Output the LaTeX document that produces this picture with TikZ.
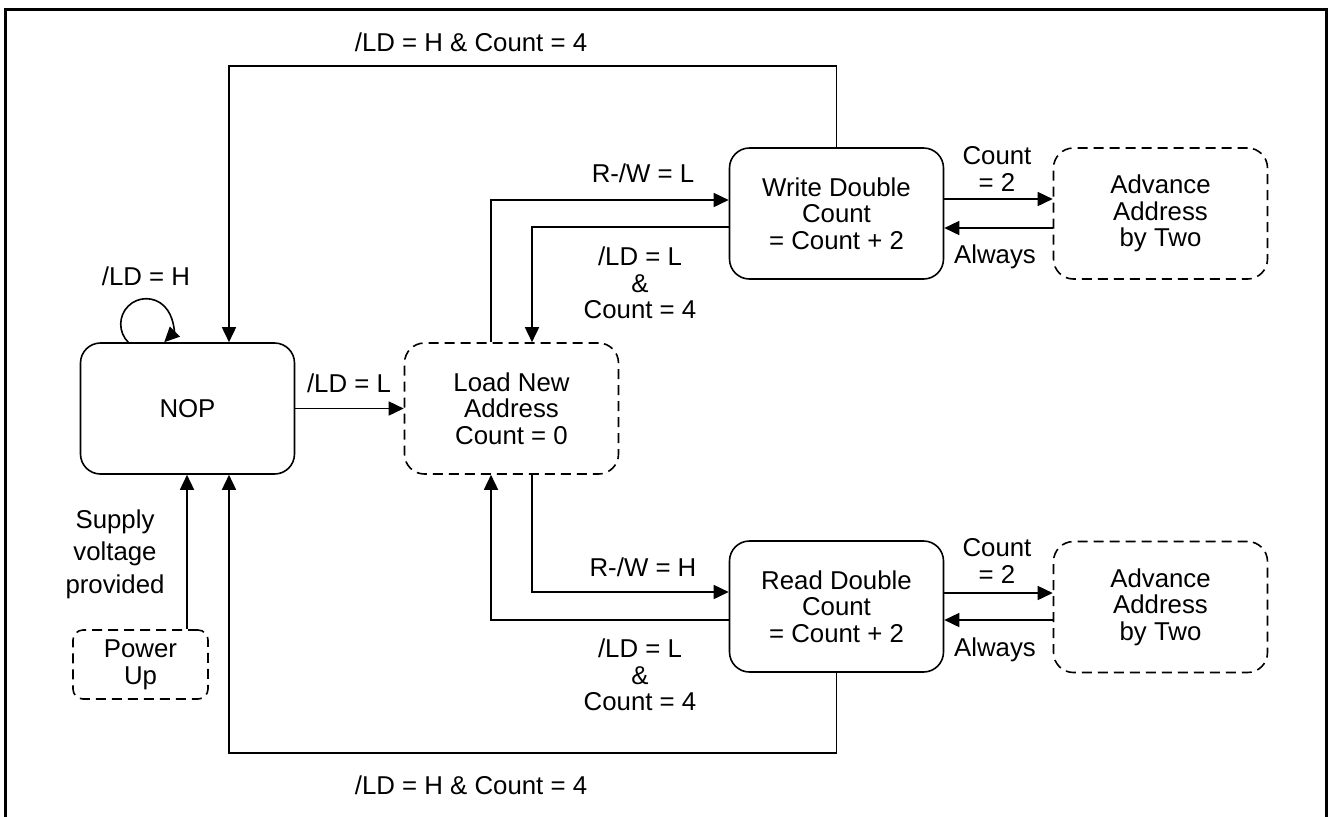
\documentclass[tikz,border=0pt]{standalone}
\usepackage{fontspec}
\setmainfont{Liberation Sans}
\usetikzlibrary{arrows.meta,calc}
\begin{document}
\begin{tikzpicture}[x=0.5pt,y=-0.5pt,
  font=\fontsize{12.9}{13.3}\selectfont,
  line width=0.8pt,
  arr/.style={-{Triangle[length=7.5pt,width=7pt]}},
  state/.style={draw,rounded corners=10pt,minimum width=107pt,minimum height=65.5pt,align=center,inner sep=0pt},
  dstate/.style={state,dashed,dash pattern=on 5pt off 3pt},
  lbl/.style={align=center,inner sep=0pt}]
\useasboundingbox (0,0) rectangle (1329,816);
\draw[line width=1.5pt] (5,820) -- (5,9) -- (1326,9) -- (1326,820);
% states
\node[state] (nop) at (187.5,408.5) {NOP};
\node[dstate] (load) at (511.5,408.5) {Load New\\Address\\Count = 0};
\node[state] (write) at (836.5,213.5) {Write Double\\Count\\= Count + 2};
\node[dstate] (adv1) at (1160.5,213.5) {Advance\\Address\\by Two};
\node[state] (read) at (836.5,606.5) {Read Double\\Count\\= Count + 2};
\node[dstate] (adv2) at (1160.5,607) {Advance\\Address\\by Two};
\node[dstate,rounded corners=5pt,minimum width=67.5pt,minimum height=34.5pt] (pwr) at (140.5,664.5) {Power\\Up};
% coordinates
\coordinate (tl) at (229,66);
\coordinate (bl) at (229,753);
\coordinate (pu) at (187,664);
\coordinate (c1) at (491,200);
\coordinate (c2) at (532,227);
\coordinate (c3) at (532,592);
\coordinate (c4) at (491,620);
\coordinate (w1) at (1000,199);
\coordinate (w2) at (1000,228);
\coordinate (r1) at (1000,593);
\coordinate (r2) at (1000,620);
% connectors
\draw[arr] (write.north) |- (tl) -- (tl |- nop.north);
\draw[arr] (read.south) |- (bl) -- (bl |- nop.south);
\draw[arr] (pu |- pwr.north) -- (pu |- nop.south);
\draw[arr] ([xshift=24.25pt]nop.north west) arc[start angle=225,end angle=-45,radius=12.75pt];
\draw[arr] (nop.east) -- (load.west);
\draw[arr] (c1 |- load.north) -- (c1) -- (c1 -| write.west);
\draw[arr] (c2 -| write.west) -- (c2) -- (c2 |- load.north);
\draw[arr] (c3 |- load.south) -- (c3) -- (c3 -| read.west);
\draw[arr] (c4 -| read.west) -- (c4) -- (c4 |- load.south);
\draw[arr] (w1 -| write.east) -- (w1 -| adv1.west);
\draw[arr] (w2 -| adv1.west) -- (w2 -| write.east);
\draw[arr] (r1 -| read.east) -- (r1 -| adv2.west);
\draw[arr] (r2 -| adv2.west) -- (r2 -| read.east);
% labels
\node[lbl] (t1) at (471,42) {/LD = H \& Count = 4};
\node[lbl] (t2) at (471,785) {/LD = H \& Count = 4};
\node[lbl] (t3) at (146,276) {/LD = H};
\node[lbl] (t4) at (349,383) {/LD = L};
\node[lbl,font=\fontsize{12.9}{16.25}\selectfont] (t5) at (115,554) {Supply\\voltage\\provided};
\node[lbl] (t6) at (643,173) {R-/W = L};
\node[lbl] (t7) at (640,283) {/LD = L\\\&\\Count = 4};
\node[lbl] (t8) at (643,567) {R-/W = H};
\node[lbl] (t9) at (640,675) {/LD = L\\\&\\Count = 4};
\node[lbl] (t10) at (997,169) {Count\\= 2};
\node[lbl] (t11) at (995,257) {Always};
\node[lbl] (t12) at (997,561) {Count\\= 2};
\node[lbl] (t13) at (995,650) {Always};
\end{tikzpicture}
\end{document}
